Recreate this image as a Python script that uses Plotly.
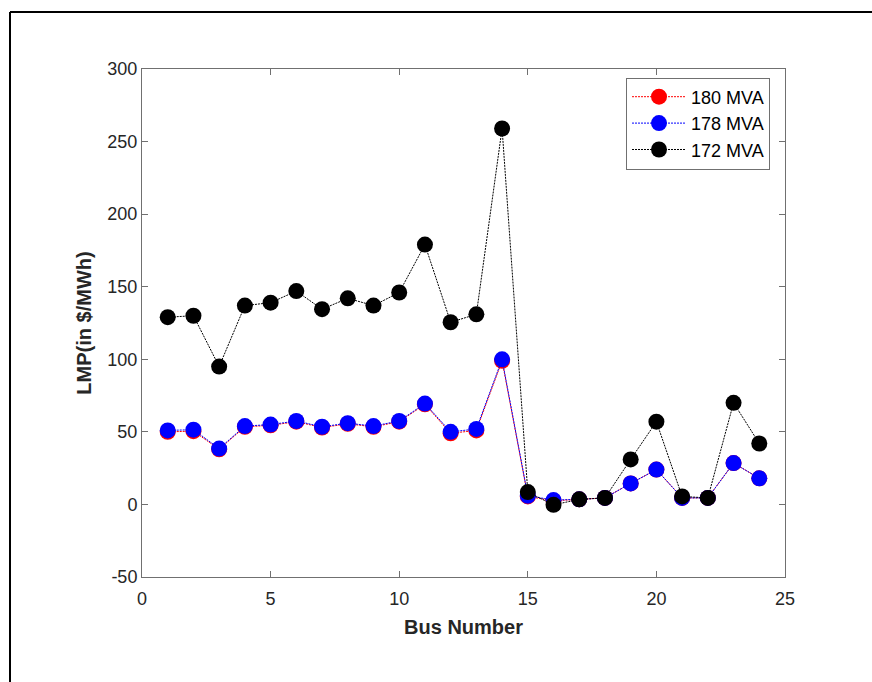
import plotly.graph_objects as go

bus = list(range(1, 25))
lmp_180 = [50, 50.5, 38, 53.5, 54.5, 57, 53, 55.5, 53.5, 57, 69, 49, 51, 99,
           5.5, 2.5, 3.5, 4.5, 14.5, 24, 4.5, 4.5, 28.5, 18]
lmp_178 = [51, 51.5, 38.5, 54, 55, 57.5, 53.5, 56, 54, 57.5, 69.5, 50, 52, 100,
           6, 3, 3.5, 4.5, 14.5, 24, 4.5, 4.5, 28.5, 18]
lmp_172 = [129, 130, 95, 137, 139, 147, 134.5, 142, 137, 146, 179, 125.5, 131, 259,
           8.5, -0.3, 3.5, 4.5, 31, 57, 5.5, 4.5, 70, 42]

x_ticks = [0, 5, 10, 15, 20, 25]
y_ticks = [-50, 0, 50, 100, 150, 200, 250, 300]
y_ticklabels = ["-50", "0", "50", "100", "150", "200", "250", "300"]

series = [("180 MVA", lmp_180, "#ff0000"),
          ("178 MVA", lmp_178, "#0000ff"),
          ("172 MVA", lmp_172, "#000000")]

fig = go.Figure()
for name, vals, col in series:
    fig.add_trace(go.Scatter(
        x=bus, y=vals, name=name, mode="lines+markers",
        line=dict(color=col, width=1, dash="2px,1px"),
        marker=dict(color=col, size=16, line=dict(width=0)),
    ))

FONT = "Liberation Sans, Arial, Helvetica, sans-serif"
axis_common = dict(
    showline=True, linecolor="#707070", linewidth=1, mirror="ticks",
    ticks="inside", ticklen=6, tickcolor="#707070", tickwidth=1,
    showgrid=False, zeroline=False,
    tickfont=dict(family=FONT, size=18, color="#262626"),
)
fig.update_xaxes(range=[0, 25], tickvals=x_ticks, ticklabelstandoff=5,
                 title=dict(text="<b>Bus Number</b>", font=dict(family=FONT, size=20, color="#262626"), standoff=12),
                 **axis_common)
fig.update_yaxes(range=[-50, 300], tickvals=y_ticks, ticktext=y_ticklabels,
                 title=dict(text="<b>LMP(in $/MWh)</b>", font=dict(family=FONT, size=20, color="#262626"), standoff=10),
                 **axis_common)

W, H = 872, 682
L, R, T, B = 142, 785, 69, 577
pw, ph = R - L, B - T
def px(x):
    return (x - L) / pw
def py(y):
    return 1 - (y - T) / ph

fig.update_layout(
    width=W, height=H,
    margin=dict(l=L, r=W - R, t=T, b=H - B, pad=0),
    paper_bgcolor="white", plot_bgcolor="white",
    font=dict(family=FONT, size=18, color="#262626"),
    showlegend=True,
    legend=dict(
        x=px(770), y=py(123.5), xanchor="right", yanchor="middle",
        bordercolor="#707070", borderwidth=1, bgcolor="white",
        font=dict(family=FONT, size=18, color="#000000"),
        itemwidth=54, tracegroupgap=0,
    ),
    shapes=[
        dict(type="line", xref="paper", yref="paper", x0=px(10), y0=py(12), x1=px(880), y1=py(12),
             line=dict(color="black", width=2)),
        dict(type="line", xref="paper", yref="paper", x0=px(10), y0=py(12), x1=px(10), y1=py(700),
             line=dict(color="black", width=2)),
    ],
)

fig.write_html("out.html", config={"displayModeBar": False},
               post_script="document.body.style.margin='0';document.body.style.overflow='hidden';")
